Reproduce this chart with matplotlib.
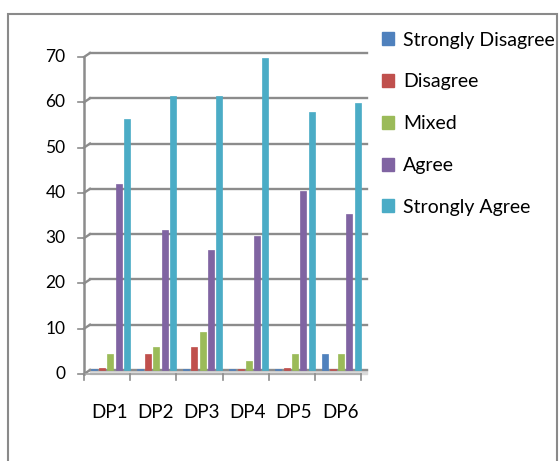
import numpy as np
import matplotlib.pyplot as plt
from matplotlib.patches import Rectangle, Patch
from matplotlib.transforms import ScaledTranslation

plt.rcParams['font.family'] = ['Lato', 'DejaVu Sans']

categories = ['DP1', 'DP2', 'DP3', 'DP4', 'DP5', 'DP6']
series = ['Strongly Disagree', 'Disagree', 'Mixed', 'Agree', 'Strongly Agree']
strongly_disagree = [0.3, 0.2, 0.2, 0.2, 0.3, 3.5]
disagree = [0.4, 3.5, 5.0, 0.3, 0.5, 0.3]
mixed = [3.5, 5.0, 8.5, 2.0, 3.5, 3.5]
agree = [41, 31, 26.5, 29.5, 39.5, 34.5]
strongly_agree = [55.5, 60.5, 60.5, 69, 57, 59]
y_ticks = [0, 10, 20, 30, 40, 50, 60, 70]

colors = ['#4F81BD', '#C0504D', '#9BBB59', '#8064A2', '#4BACC6']
values = [strongly_disagree, disagree, mixed, agree, strongly_agree]

W, H = 560, 461
fig = plt.figure(figsize=(W / 100, H / 100), dpi=100)

# back plane of the 3d chart in pixels
x0, x1, ytop, ybot = 90, 367, 53, 370
ax = fig.add_axes([x0 / W, 1 - ybot / H, (x1 - x0) / W, (ybot - ytop) / H])
ax.set_xlim(-0.5, len(categories) - 0.5)
ax.set_ylim(0, 70)
ax.axis('off')

# front plane is shifted left and down
front = ax.transData + ScaledTranslation(-6 / 100, -4 / 100, fig.dpi_scale_trans)
grid_col = '#8c8c8c'

# floor
ax.fill_between([-0.5, 5.5], [0, 0], [-0.9, -0.9], color='#d9d9d9', clip_on=False, zorder=1)

# gridlines with diagonal stub from front axis
for v in y_ticks:
    ax.plot([-0.5, 5.5], [v, v], color=grid_col, lw=1.7, clip_on=False, zorder=1)
    ax.plot([-0.5 - 6 / 46.2, -0.5], [v - 4 / 4.53, v], color=grid_col, lw=1.7,
            clip_on=False, zorder=1)
    ax.plot([-0.5, -0.5 - 0.13], [v, v], color=grid_col, lw=1.2, transform=front, clip_on=False)
    ax.text(-0.5 - 0.4, v, str(v), transform=front, ha='right', va='center', fontsize=12.5)

# front axis line and category ticks
ax.plot([-0.5, -0.5], [0, 70], color=grid_col, lw=1.8, transform=front, clip_on=False)
ax.plot([-0.5, 5.5], [0, 0], color='#a6a6a6', lw=1.2, transform=front, clip_on=False)
for i in range(len(categories) + 1):
    ax.plot([i - 0.5, i - 0.5], [0, -1.3], color=grid_col, lw=1.2, transform=front, clip_on=False)
for i, c in enumerate(categories):
    ax.text(i + 0.05, -8.6, c, transform=front, ha='center', va='center', fontsize=13.5)

# bars
xs = np.arange(len(categories))
width = 0.13
for k, (name, vals, col) in enumerate(zip(series, values, colors)):
    ax.bar(xs - 0.42 + k * 0.18, vals, width=width, color=col, zorder=3, clip_on=False,
           edgecolor=col, linewidth=0.5)

handles = [Patch(facecolor=c, edgecolor=c) for c in colors]
fig.legend(handles, series, loc='upper left', bbox_to_anchor=(374 / W, 1 - 24 / H),
           frameon=False, fontsize=14, labelspacing=1.27, handlelength=0.65,
           handleheight=0.65, handletextpad=0.45, borderaxespad=0)

# outer chart border
fig.patches.append(Rectangle((8 / W, -0.1), (557 - 8) / W, 1.1 - 14 / H,
                             transform=fig.transFigure, fill=False,
                             edgecolor='#8a8a8a', lw=1.5))

fig.savefig('out.png', dpi=100)
